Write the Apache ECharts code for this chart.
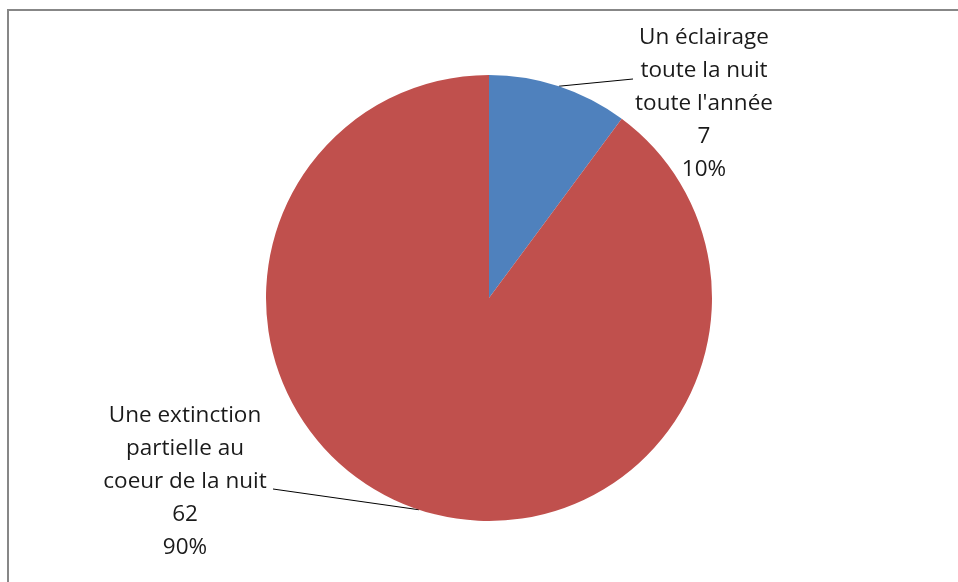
<!DOCTYPE html>
<html>
<head>
    <meta charset="utf-8" />
    <title>Eclairage</title>
    <script src="https://cdn.jsdelivr.net/npm/echarts@6/dist/echarts.min.js"></script>
    <style>
        html, body { margin: 0; padding: 0; background: #fff; }
        #main { width: 958px; height: 582px; }
    </style>
</head>
<body>
<div id="main"></div>
<script type="text/javascript">
    // données
    var names = ['Un éclairage\ntoute la nuit\ntoute l\'année', 'Une extinction\npartielle au\ncoeur de la nuit'];
    var values = [7, 62];
    var colors = ['#4F81BD', '#C0504D'];

    // position des étiquettes (centre du bloc) et bout de la ligne de rappel
    var labelPos = [[704, 104], [185, 482]];
    var lineEnd = [[633, 79], [273, 489]];

    var myChart = echarts.init(document.getElementById('main'));

    var data = [];
    for (var i = 0; i < names.length; i++) {
        data.push({ name: names[i], value: values[i], itemStyle: { color: colors[i] } });
    }

    var option = {
        animation: false,
        graphic: [{
            type: 'polyline',
            shape: { points: [[8, 582], [8, 10], [958, 10]] },
            style: { stroke: '#878787', lineWidth: 2, fill: null }
        }],
        series: [{
            type: 'pie',
            center: [489, 298],
            radius: 223,
            startAngle: 90,
            clockwise: true,
            data: data,
            itemStyle: { borderWidth: 0 },
            emphasis: { disabled: true },
            label: {
                show: true,
                position: 'outside',
                color: '#1a1a1a',
                fontFamily: 'Open Sans',
                fontSize: 22.5,
                lineHeight: 33,
                formatter: function (p) {
                    return p.name + '\n' + p.value + '\n' + Math.round(p.percent) + '%';
                }
            },
            labelLine: {
                show: true,
                length: 10,
                length2: 10,
                lineStyle: { color: '#000', width: 1 }
            },
            labelLayout: function (params) {
                var k = params.dataIndex;
                var pts = params.labelLinePoints;
                return {
                    x: labelPos[k][0],
                    y: labelPos[k][1],
                    align: 'center',
                    verticalAlign: 'middle',
                    labelLinePoints: [pts[0], lineEnd[k]]
                };
            }
        }]
    };

    myChart.setOption(option);
</script>
</body>
</html>
